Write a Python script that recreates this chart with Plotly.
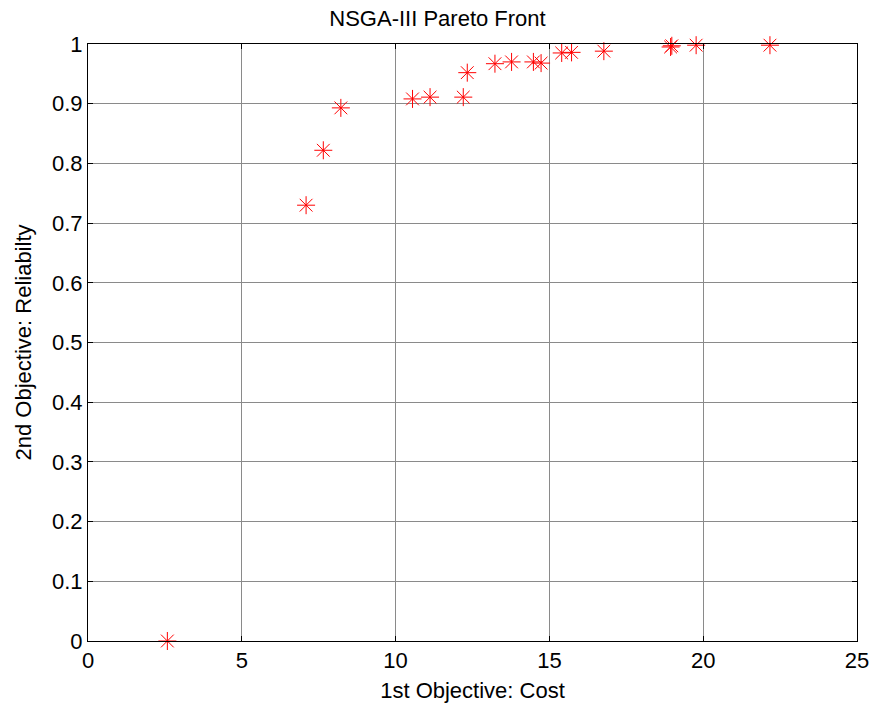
import plotly.graph_objects as go

cost = [2.58, 7.09, 7.65, 8.22, 10.55, 11.12, 12.2, 12.33, 13.23, 13.77, 14.48, 14.73,
        15.4, 15.72, 16.77, 18.94, 18.98, 19.77, 22.17]
reliability = [0.0, 0.730, 0.822, 0.893, 0.908, 0.911, 0.911, 0.952, 0.967, 0.970, 0.970, 0.968,
               0.985, 0.986, 0.988, 0.995, 0.997, 0.998, 0.998]

x_ticks = [0, 5, 10, 15, 20, 25]
y_ticks = [0, 0.1, 0.2, 0.3, 0.4, 0.5, 0.6, 0.7, 0.8, 0.9, 1]
y_labels = ["0", "0.1", "0.2", "0.3", "0.4", "0.5", "0.6", "0.7", "0.8", "0.9", "1"]

font = "Liberation Sans, Arial, sans-serif"
fsize = 22

fig = go.Figure()
fig.add_trace(go.Scatter(
    x=cost, y=reliability, mode="markers",
    marker=dict(symbol="asterisk-open", size=15, color="red",
                line=dict(color="red", width=1)),
    showlegend=False, cliponaxis=False,
))

axis_common = dict(
    showgrid=True, gridcolor="#8a8a8a", gridwidth=1,
    showline=True, linecolor="black", linewidth=1, mirror="ticks",
    ticks="inside", ticklen=5, tickcolor="black", automargin=False,
    zeroline=False, tickfont=dict(family=font, size=fsize, color="black"),
)

fig.update_layout(
    width=875, height=711,
    margin=dict(l=88, r=18, t=44, b=70, autoexpand=False),
    paper_bgcolor="white", plot_bgcolor="white",
    title=dict(text="NSGA-III Pareto Front", x=0.5, xanchor="center",
               y=1 - 18 / 711, yanchor="middle",
               font=dict(family=font, size=fsize, color="black")),
    xaxis=dict(range=[0, 25], tickvals=x_ticks, ticktext=[str(v) for v in x_ticks],
               title=dict(text="1st Objective: Cost", standoff=10,
                          font=dict(family=font, size=fsize, color="black")),
               **axis_common),
    yaxis=dict(range=[0, 1], tickvals=y_ticks, ticktext=y_labels,
               title=dict(text="2nd Objective: Reliabilty", standoff=14,
                          font=dict(family=font, size=fsize, color="black")),
               **axis_common),
)

fig.write_html("out.html")
